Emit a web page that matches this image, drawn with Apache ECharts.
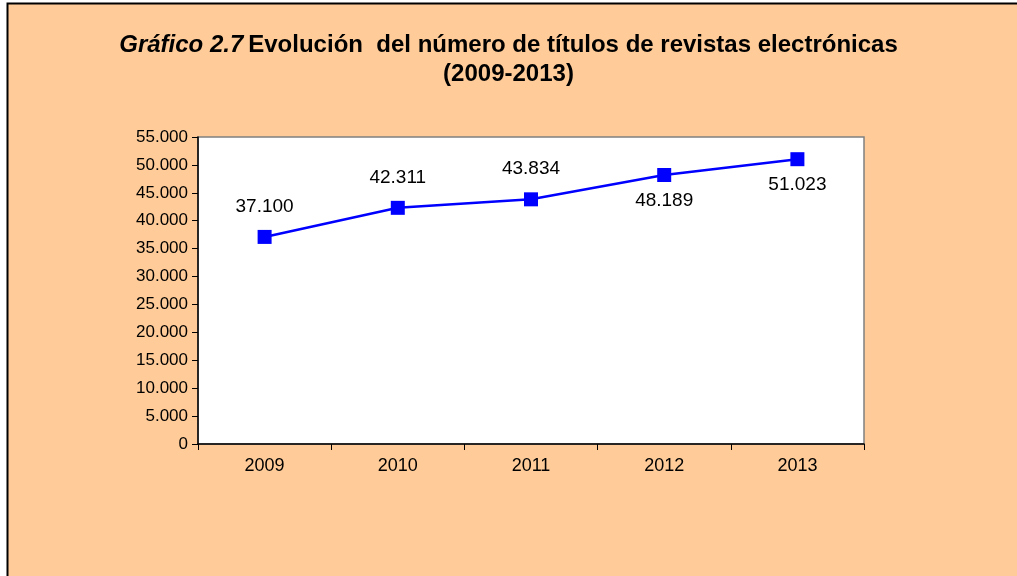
<!DOCTYPE html>
<html>
<head>
<meta charset="utf-8">
<script src="https://cdn.jsdelivr.net/npm/echarts@6/dist/echarts.min.js"></script>
<style>
	html, body { margin: 0; padding: 0; background: #fff; }
	#chart { width: 1017px; height: 576px; }
</style>
</head>
<body>
<div id="chart"></div>
<script>
// Data
const years = ['2009', '2010', '2011', '2012', '2013']
const titulos = [37100, 42311, 43834, 48189, 51023]
const labelAbove = [true, true, true, false, false]

// 12345 -> 12.345
const fmt = (v) => String(v).replace(/\B(?=(\d{3})+(?!\d))/g, '.')

const chart = echarts.init(document.getElementById('chart'))

const seriesData = titulos.map((v, i) => ({
	value: v,
	label: { position: labelAbove[i] ? 'top' : 'bottom', distance: labelAbove[i] ? 14 : 9 },
}))

const titleFont = { fontFamily: 'Liberation Sans', fontSize: 24, fontWeight: 'bold', color: '#000' }

const option = {
	backgroundColor: '#fff',
	animation: false,
	graphic: [
		{
			type: 'rect',
			shape: { x: 7, y: 3, width: 1017, height: 580 },
			style: { fill: '#FFCC99' },
			z: -10,
		},
		{
			type: 'polyline',
			shape: { points: [[7.5, 576], [7.5, 3.5], [1017, 3.5]] },
			style: { stroke: '#000', lineWidth: 2, fill: null },
			z: -9,
		},
	],
	title: [
		{
			text: '{i|Gráfico 2.7} {b|Evolución  del número de títulos de revistas electrónicas}',
			left: 'center',
			top: 33,
			padding: 0,
			textStyle: {
				rich: {
					i: Object.assign({ fontStyle: 'italic' }, titleFont),
					b: titleFont,
				},
			},
		},
		{
			text: '(2009-2013)',
			left: 'center',
			top: 62,
			padding: 0,
			textStyle: titleFont,
		},
	],
	grid: {
		left: 198,
		right: 153,
		top: 137,
		bottom: 132,
		show: true,
		backgroundColor: '#fff',
		borderColor: '#808080',
		borderWidth: 1.5,
	},
	xAxis: {
		type: 'category',
		data: years,
		boundaryGap: true,
		axisLine: { lineStyle: { color: '#000', width: 1.5 } },
		axisTick: { show: true, length: 6, lineStyle: { color: '#000' } },
		axisLabel: { color: '#000', fontFamily: 'Liberation Sans', fontSize: 18, margin: 13 },
		splitLine: { show: false },
	},
	yAxis: {
		type: 'value',
		min: 0,
		max: 55000,
		interval: 5000,
		axisLine: { show: true, lineStyle: { color: '#000', width: 1.5 } },
		axisTick: { show: true, length: 6, lineStyle: { color: '#000' } },
		axisLabel: { color: '#000', fontFamily: 'Liberation Sans', fontSize: 17, margin: 10, formatter: fmt },
		splitLine: { show: false },
	},
	series: [
		{
			type: 'line',
			data: seriesData,
			symbol: 'rect',
			symbolSize: 14,
			itemStyle: { color: '#0000FF' },
			lineStyle: { color: '#0000FF', width: 2.5 },
			label: {
				show: true,
				color: '#000',
				fontFamily: 'Liberation Sans',
				fontSize: 19,
				formatter: (p) => fmt(p.value),
			},
		},
	],
}

chart.setOption(option)
</script>
</body>
</html>
